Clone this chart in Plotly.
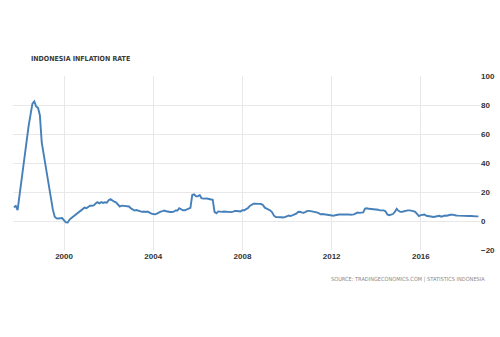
import pandas as pd
import plotly.graph_objects as go

# Monthly YoY inflation (%), Oct 1997 - Aug 2018
inflation = [
    9.5, 10.4, 7.5,                                                   # 1997 Oct-Dec
    18.0, 29.0, 39.0, 48.0, 56.0, 66.0, 75.0, 81.0, 82.5, 79.0, 78.0, 73.0,  # 1998
    54.0, 46.0, 38.0, 31.0, 24.0, 16.0, 8.0, 3.0, 1.8, 1.7, 1.8, 2.0,   # 1999
    0.5, -1.0, -1.1, 1.0, 2.0, 3.0, 4.5, 5.5, 6.5, 7.5, 8.5, 9.2,       # 2000
    8.8, 9.5, 10.6, 10.5, 10.8, 12.1, 13.0, 12.2, 13.0, 12.5, 12.9, 12.6,  # 2001
    14.4, 15.1, 14.1, 13.3, 12.9, 11.5, 10.0, 10.6, 10.5, 10.3, 10.5, 10.0,  # 2002
    8.7, 7.6, 7.2, 7.6, 7.2, 6.9, 6.3, 6.5, 6.2, 6.5, 5.5, 5.1,       # 2003
    4.8, 4.6, 5.1, 5.9, 6.5, 6.8, 7.2, 6.7, 6.3, 6.2, 6.2, 6.4,       # 2004
    7.3, 7.2, 8.8, 8.1, 7.4, 7.4, 7.8, 8.3, 9.1, 17.9, 18.4, 17.1,    # 2005
    17.0, 17.9, 15.7, 15.4, 15.6, 15.5, 15.2, 14.9, 14.6, 6.3, 5.3, 6.6,  # 2006
    6.3, 6.3, 6.5, 6.3, 6.0, 5.8, 6.1, 6.5, 7.0, 6.9, 6.7, 6.6,       # 2007
    7.4, 7.4, 8.2, 9.0, 10.4, 11.0, 11.9, 11.9, 12.1, 11.8, 11.7, 11.1,  # 2008
    9.2, 8.6, 7.9, 7.3, 6.0, 3.7, 2.7, 2.8, 2.8, 2.6, 2.4, 2.8,       # 2009
    3.7, 3.8, 3.4, 3.9, 4.2, 5.1, 6.2, 6.4, 5.8, 5.7, 6.3, 7.0,       # 2010
    7.0, 6.8, 6.7, 6.2, 6.0, 5.5, 4.6, 4.8, 4.6, 4.4, 4.2, 3.8,       # 2011
    3.7, 3.6, 4.0, 4.5, 4.5, 4.5, 4.6, 4.6, 4.3, 4.6, 4.3, 4.3,       # 2012
    4.6, 5.3, 5.9, 5.6, 5.5, 5.9, 8.6, 8.8, 8.4, 8.3, 8.4, 8.4,       # 2013
    8.2, 7.8, 7.3, 7.3, 7.3, 6.7, 4.5, 4.0, 4.5, 4.8, 6.2, 8.4,       # 2014
    7.0, 6.3, 6.4, 6.8, 7.2, 7.3, 7.3, 7.2, 6.8, 6.3, 4.9, 3.4,       # 2015
    4.1, 4.4, 4.5, 3.6, 3.3, 3.5, 3.2, 2.8, 3.1, 3.3, 3.6, 3.0,       # 2016
    3.5, 3.8, 3.6, 4.2, 4.3, 4.4, 3.9, 3.8, 3.7, 3.6, 3.3, 3.6,       # 2017
    3.3, 3.2, 3.4, 3.4, 3.2, 3.1, 3.2, 3.2,                           # 2018 Jan-Aug
]
dates = pd.date_range("1997-10-01", periods=len(inflation), freq="MS")

x_ticks = ["2000-01-01", "2004-01-01", "2008-01-01", "2012-01-01", "2016-01-01"]
x_tick_labels = ["2000", "2004", "2008", "2012", "2016"]
y_ticks = [-20, 0, 20, 40, 60, 80, 100]

title_text = "INDONESIA INFLATION RATE"
source_text = "SOURCE: TRADINGECONOMICS.COM | STATISTICS INDONESIA"

fig = go.Figure()
fig.add_trace(go.Scatter(
    x=dates, y=inflation, mode="lines",
    line=dict(color="#4680ba", width=1.9),
    hoverinfo="skip", showlegend=False,
))

fig.update_layout(
    width=500, height=337,
    margin=dict(l=13, r=20, t=76, b=87),
    paper_bgcolor="white", plot_bgcolor="white",
    showlegend=False,
    xaxis=dict(
        range=["1997-09-17", "2018-08-27"],
        tickvals=x_ticks, ticktext=x_tick_labels,
        showgrid=True, gridcolor="#e8e8e8", gridwidth=1,
        zeroline=False, showline=False, ticks="",
        tickfont=dict(family="Liberation Sans", size=8, color="#333333", weight="bold"),
        automargin=False,
    ),
    yaxis=dict(
        range=[-20, 100], side="right",
        tickvals=y_ticks,
        showgrid=True, gridcolor="#e8e8e8", gridwidth=1,
        zeroline=False, showline=False, ticks="",
        tickfont=dict(family="Liberation Sans", size=8, color="#333333", weight="bold"),
        automargin=False,
    ),
    annotations=[
        dict(text=title_text, xref="paper", yref="paper", x=0.034, y=1.098,
             xanchor="left", yanchor="middle", showarrow=False,
             font=dict(family="DejaVu Sans Condensed", size=7,
                       color="#3a3a3a", weight="bold")),
        dict(text=source_text, xref="paper", yref="paper", x=1.015, y=-0.167,
             xanchor="right", yanchor="middle", showarrow=False,
             font=dict(family="DejaVu Sans Condensed", size=5.6,
                       color="#8a8a8a")),
    ],
)

fig.write_html("out.html")
